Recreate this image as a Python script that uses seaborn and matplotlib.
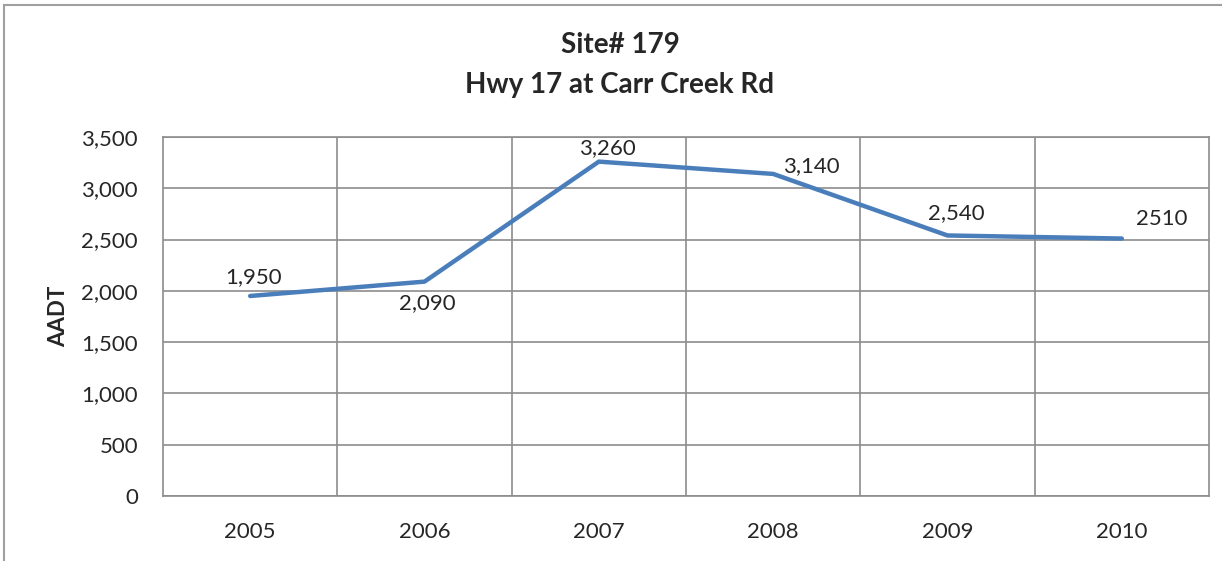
import matplotlib
matplotlib.use("Agg")
import matplotlib.pyplot as plt
import seaborn as sns
import pandas as pd
from matplotlib.patches import Rectangle

# data
years = ["2005", "2006", "2007", "2008", "2009", "2010"]
aadt = [1950, 2090, 3260, 3140, 2540, 2510]
labels = ["1,950", "2,090", "3,260", "3,140", "2,540", "2510"]
# label offsets in pixels (dx, dy), screen-style (dy down positive)
offsets = [(3, -19), (3, 21), (9, -14), (38, -8), (9, -22), (40, -20)]

sns.set_style("white")
plt.rcParams["font.family"] = ["Lato", "DejaVu Sans"]

df = pd.DataFrame({"Year": years, "AADT": aadt})

fig = plt.figure(figsize=(12.22, 5.61), dpi=100)
ax = fig.add_axes([163 / 1222, 1 - 496 / 561, (1209 - 163) / 1222, (496 - 137) / 561])

sns.lineplot(data=df, x="Year", y="AADT", ax=ax, color="#4a7ebb", linewidth=3.2, sort=False)

ax.set_xlim(-0.5, len(years) - 0.5)
ax.set_ylim(0, 3500)
ax.set_yticks(range(0, 3501, 500))
ax.set_yticklabels([f"{v:,}" for v in range(0, 3501, 500)], fontsize=16)
ax.set_xticks(range(len(years)))
ax.set_xticklabels(years, fontsize=16)
ax.set_xticks([i + 0.5 for i in range(len(years) - 1)], minor=True)
ax.tick_params(axis="y", which="both", length=0, pad=18)
ax.tick_params(axis="x", which="both", length=0, pad=19)
ax.grid(True, which="major", axis="y", color="#8c8c8c", linewidth=1.2)
ax.grid(True, which="minor", axis="x", color="#8c8c8c", linewidth=1.2)
ax.grid(False, which="major", axis="x")
for s in ax.spines.values():
    s.set_color("#8c8c8c")
    s.set_linewidth(1.2)
ax.set_xlabel("")
ax.set_ylabel("AADT", fontsize=16, fontweight="bold", labelpad=9)

for i, (lab, (dx, dy)) in enumerate(zip(labels, offsets)):
    ax.annotate(lab, (i, aadt[i]), xytext=(dx * 0.72, -dy * 0.72), textcoords="offset points",
                ha="center", va="center", fontsize=16)

fig.text(620 / 1222, 1 - 45 / 561, "Site# 179", ha="center", va="center", fontsize=20, fontweight="bold")
fig.text(620 / 1222, 1 - 85 / 561, "Hwy 17 at Carr Creek Rd", ha="center", va="center", fontsize=20, fontweight="bold")

# chart area border
fig.patches.append(Rectangle((4 / 1222, -0.1), 1.1, 1 - 5 / 561 + 0.1, transform=fig.transFigure,
                             fill=False, edgecolor="#a0a0a0", linewidth=1.5))

fig.savefig("out.png", dpi=100)
